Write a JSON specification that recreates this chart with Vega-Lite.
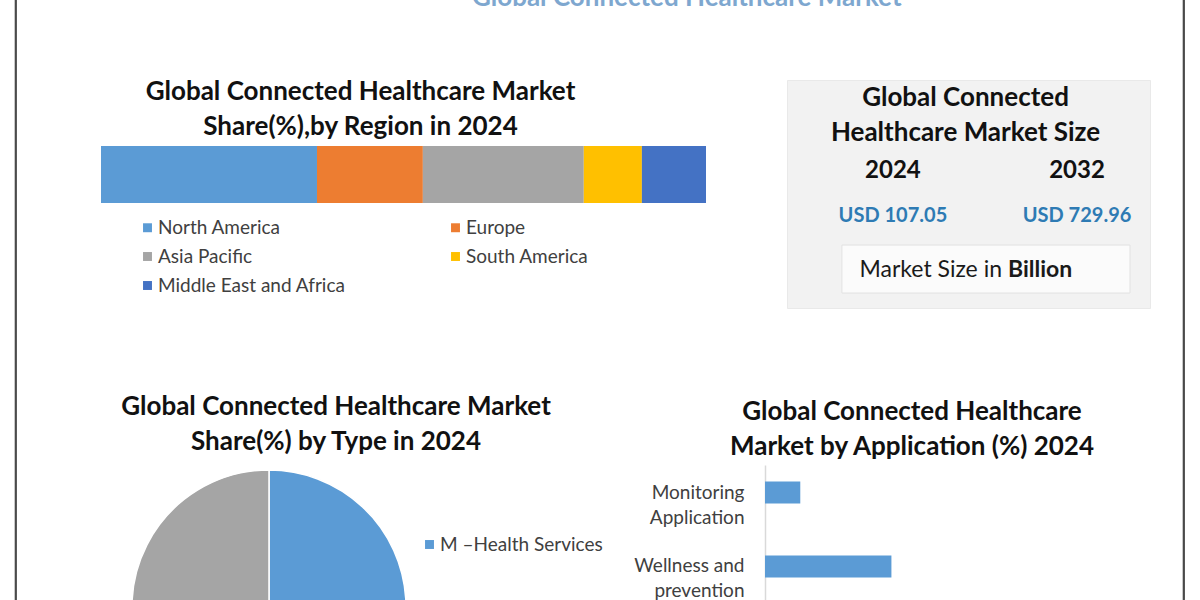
{
  "$schema": "https://vega.github.io/schema/vega-lite/v6.json",
  "background": "white",
  "padding": {"left": 14, "top": -15, "right": 15, "bottom": 0},
  "spacing": 84,
  "resolve": {"scale": {"color": "independent"}},
  "hconcat": [
    {
      "width": 1, "height": 600,
      "view": {"stroke": "#4a4a4a", "strokeWidth": 1.2, "fill": null},
      "data": {"values": []},
      "mark": "rule",
      "encoding": {}
    },
    {
      "spacing": 31,
      "resolve": {"scale": {"color": "independent"}},
      "hconcat": [
        {
          "title": {"text": "Global Connected Healthcare Market", "fontSize": 26, "color": "#7ea7cf", "anchor": "middle", "dx": 61, "offset": -12},
          "spacing": 85,
          "resolve": {"scale": {"color": "independent"}},
          "vconcat": [
            {
              "spacing": 80,
              "resolve": {"scale": {"color": "independent"}},
              "hconcat": [
                {
                  "width": 605, "height": 204,
                  "title": {"text": ["Global Connected Healthcare Market", "Share(%),by Region in 2024"], "anchor": "middle", "frame": "group", "dx": -43, "offset": -141},
                  "data": {"values": [
                    {"year": "2024", "region": "North America", "share": 35.7, "rank": 1},
                    {"year": "2024", "region": "Europe", "share": 17.5, "rank": 2},
                    {"year": "2024", "region": "Asia Pacific", "share": 26.6, "rank": 3},
                    {"year": "2024", "region": "South America", "share": 9.6, "rank": 4},
                    {"year": "2024", "region": "Middle East and Africa", "share": 10.6, "rank": 5}
                  ]},
                  "mark": {"type": "bar"},
                  "encoding": {
                    "y": {"field": "year", "type": "nominal", "axis": null, "scale": {"paddingInner": 0.224, "paddingOuter": 1, "align": 1}},
                    "x": {"field": "share", "type": "quantitative", "stack": "zero", "axis": null, "scale": {"domain": [0, 100]}},
                    "order": {"field": "rank"},
                    "color": {
                      "field": "region", "type": "nominal",
                      "scale": {"domain": ["North America", "Europe", "Asia Pacific", "South America", "Middle East and Africa"], "range": ["#5b9bd5", "#ed7d31", "#a5a5a5", "#ffc000", "#4472c4"]},
                      "legend": {"orient": "none", "legendX": 37, "legendY": 219, "direction": "horizontal", "columns": 2, "columnPadding": 100, "rowPadding": 9, "title": null, "symbolType": "square", "symbolSize": 80, "symbolStrokeWidth": 0, "labelFontSize": 19, "labelColor": "#404040", "labelOffset": 1, "labelLimit": 300}
                    }
                  }
                },
                {
                  "spacing": 0,
                  "vconcat": [
                    {
                      "width": 363, "height": 80,
                      "data": {"values": []},
                      "mark": "rule",
                      "encoding": {}
                    },
                    {
                      "width": 363, "height": 228,
                      "view": {"fill": "#f2f2f2", "stroke": "#e9e9e9", "strokeWidth": 1},
                      "title": {"text": ["Global Connected", "Healthcare Market Size"], "anchor": "middle", "frame": "group", "dx": -3, "offset": -66},
                      "layer": [
                        {
                          "data": {"values": [{"unit": "Market Size in", "bold": "Billion"}]},
                          "mark": {"type": "rect", "fill": "#fbfbfb", "stroke": "#e2e2e2", "strokeWidth": 1, "xOffset": -51, "x2Offset": 53, "yOffset": -38, "y2Offset": 10},
                          "encoding": {
                            "x": {"datum": "2024", "type": "ordinal", "scale": {"type": "point", "domain": ["2024", "2032"], "padding": 0.486, "align": 0.592}, "axis": null},
                            "x2": {"datum": "2032"},
                            "y": {"datum": "Unit", "type": "ordinal", "scale": {"type": "point", "domain": ["Year", "Size", "Unit"], "padding": 1, "align": 0.781}, "axis": null},
                            "y2": {"datum": "Unit"}
                          }
                        },
                        {
                          "data": {"values": [{"unit": "Market Size in", "bold": "Billion"}]},
                          "mark": {"type": "text", "align": "right", "fontSize": 23, "color": "#1a1a1a", "dx": -75, "dy": -13},
                          "encoding": {
                            "x": {"datum": "2032", "type": "ordinal"},
                            "y": {"datum": "Unit", "type": "ordinal"},
                            "text": {"field": "unit"}
                          }
                        },
                        {
                          "data": {"values": [{"unit": "Market Size in", "bold": "Billion"}]},
                          "mark": {"type": "text", "align": "left", "fontSize": 23, "fontWeight": "bold", "color": "#1a1a1a", "dx": -69, "dy": -13},
                          "encoding": {
                            "x": {"datum": "2032", "type": "ordinal"},
                            "y": {"datum": "Unit", "type": "ordinal"},
                            "text": {"field": "bold"}
                          }
                        },
                        {
                          "data": {"values": [{"year": "2024", "size": "USD 107.05"}, {"year": "2032", "size": "USD 729.96"}]},
                          "mark": {"type": "text", "fontSize": 24, "fontWeight": "bold", "color": "#111111", "dy": 2},
                          "encoding": {
                            "x": {"field": "year", "type": "ordinal"},
                            "y": {"datum": "Year", "type": "ordinal"},
                            "text": {"field": "year"}
                          }
                        },
                        {
                          "data": {"values": [{"year": "2024", "size": "USD 107.05"}, {"year": "2032", "size": "USD 729.96"}]},
                          "mark": {"type": "text", "fontSize": 20, "fontWeight": "bold", "color": "#2e7bb4", "dy": -10},
                          "encoding": {
                            "x": {"field": "year", "type": "ordinal"},
                            "y": {"datum": "Size", "type": "ordinal"},
                            "text": {"field": "size"}
                          }
                        }
                      ]
                    }
                  ]
                }
              ]
            },
            {
              "spacing": 30,
              "resolve": {"scale": {"color": "independent"}},
              "hconcat": [
                {
                  "width": 336, "height": 135,
                  "title": {"text": ["Global Connected Healthcare Market", "Share(%) by Type in 2024"], "anchor": "middle", "frame": "group", "dx": 67, "offset": 10},
                  "data": {"values": [
                    {"type": "M –Health Services", "share": 48, "rank": 1},
                    {"type": "M –Health Devices", "share": 17, "rank": 2},
                    {"type": "Systems and Software", "share": 35, "rank": 3}
                  ]},
                  "mark": {"type": "arc", "radius": 137, "yOffset": 74.5, "clip": true, "stroke": "#ffffff", "strokeWidth": 1.5},
                  "encoding": {
                    "theta": {"field": "share", "type": "quantitative", "stack": true},
                    "order": {"field": "rank"},
                    "color": {
                      "field": "type", "type": "nominal",
                      "scale": {"domain": ["M –Health Services", "M –Health Devices", "Systems and Software"], "range": ["#5b9bd5", "#ed7d31", "#a5a5a5"]},
                      "legend": {"orient": "none", "legendX": 319, "legendY": 70, "values": ["M –Health Services"], "title": null, "symbolType": "square", "symbolSize": 80, "symbolStrokeWidth": 0, "labelFontSize": 19, "labelColor": "#404040", "labelOffset": 1, "labelLimit": 300}
                    }
                  }
                },
                {
                  "width": 294, "height": 135,
                  "title": {"text": ["Global Connected Healthcare", "Market  by Application (%) 2024"], "anchor": "middle", "frame": "group", "offset": 5},
                  "data": {"values": [
                    {"application": "Monitoring Application", "share": 12},
                    {"application": "Wellness and prevention", "share": 43}
                  ]},
                  "mark": {"type": "bar", "color": "#5b9bd5"},
                  "encoding": {
                    "y": {
                      "field": "application", "type": "nominal", "sort": null,
                      "scale": {"paddingInner": 0.703, "paddingOuter": 0.264, "align": 0.423},
                      "axis": {"title": null, "ticks": false, "grid": false, "domainColor": "#d9d9d9", "domainWidth": 1.5, "labelFontSize": 19, "labelColor": "#404040", "labelPadding": 21, "labelLineHeight": 25, "labelLimit": 250, "labelExpr": "datum.value == 'Wellness and prevention' ? ['Wellness and', 'prevention'] : split(datum.value, ' ')"}
                    },
                    "x": {"field": "share", "type": "quantitative", "scale": {"domain": [0, 100]}, "axis": null}
                  }
                }
              ]
            }
          ]
        },
        {
          "width": 1, "height": 600,
          "view": {"stroke": "#4a4a4a", "strokeWidth": 1.2, "fill": "#4a4a4a"},
          "data": {"values": []},
          "mark": "rule",
          "encoding": {}
        }
      ]
    }
  ],
  "config": {
    "font": "Lato",
    "view": {"stroke": null},
    "title": {"font": "Lato", "fontWeight": "bold", "fontSize": 26, "color": "#111111", "lineHeight": 35},
    "legend": {"labelFont": "Lato"},
    "axis": {"labelFont": "Lato"},
    "text": {"font": "Lato"}
  }
}
